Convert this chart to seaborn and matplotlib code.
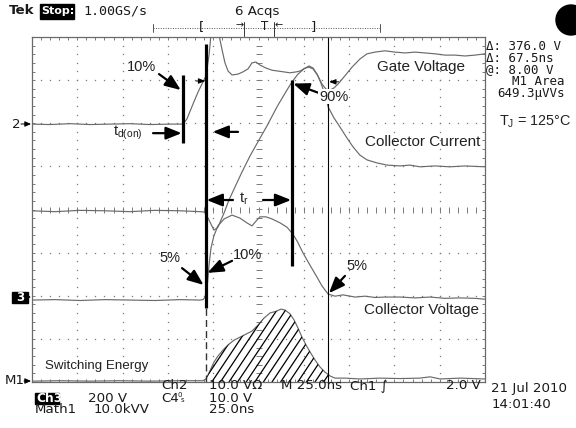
import numpy as np
import pandas as pd
import matplotlib
matplotlib.use("Agg")
import matplotlib.pyplot as plt
from matplotlib.ticker import MultipleLocator
from matplotlib.transforms import Affine2D
from matplotlib.patches import Rectangle, Circle
import seaborn as sns

# ---- acquisition: 25 ns/div horizontally, 10 x 8 divisions ----
T_LIM = (-125.0, 125.0)
DIV_LIM = (-4.0, 4.0)

# ---- waveforms: time in ns, level in divisions from screen centre ----
gate_t = [-125.0, -115.1, -104.0, -93.0, -82.0, -70.9, -59.9, -48.8, -41.7, -39.5,
          -36.1, -33.4, -31.2, -29.0, -27.3, -25.7, -23.5, -21.8, -20.1, -18.5,
          -16.8, -14.6, -11.3, -8.6, -5.8, -3.6, -1.4, 0.8, 4.1, 7.5,
          10.8, 14.1, 17.4, 20.7, 22.9, 25.7, 27.9, 30.1, 32.8, 35.0,
          37.3, 39.5, 41.7, 43.9, 47.7, 51.6, 56.0, 59.9, 64.3, 69.8,
          75.3, 80.9, 86.4, 91.9, 97.4, 102.9, 108.4, 114.0, 119.5, 125.0]
gate_div = [1.98, 1.97, 1.99, 1.97, 1.98, 1.99, 1.97, 1.98, 1.98, 2.10,
            2.45, 2.72, 2.91, 3.10, 3.58, 4.28, 4.39, 4.05, 3.70, 3.40,
            3.21, 3.12, 3.14, 3.19, 3.26, 3.40, 3.42, 3.35, 3.28, 3.23,
            3.21, 3.19, 3.17, 3.19, 3.21, 3.28, 3.30, 3.26, 3.10, 2.91,
            2.79, 2.77, 2.82, 2.91, 3.10, 3.30, 3.49, 3.61, 3.65, 3.68,
            3.65, 3.63, 3.65, 3.63, 3.61, 3.58, 3.58, 3.56, 3.58, 3.61]

ic_t = [-125.0, -112.3, -98.5, -84.7, -70.9, -57.1, -43.3, -32.3, -29.5, -26.8,
        -24.6, -22.4, -19.0, -16.3, -13.0, -9.1, -4.7, -0.3, 4.7, 10.2,
        15.7, 18.5, 21.8, 25.1, 27.9, 30.1, 32.3, 34.5, 36.7, 38.4,
        41.7, 45.0, 48.8, 52.2, 56.0, 59.9, 65.4, 70.9, 78.1, 83.6,
        89.1, 97.4, 105.7, 114.0, 125.0]
ic_div = [-0.03, -0.05, -0.02, -0.03, -0.05, -0.02, -0.03, -0.05, -0.06, -0.29,
          -0.48, -0.41, -0.08, 0.22, 0.52, 0.87, 1.24, 1.57, 1.94, 2.38,
          2.77, 2.96, 3.14, 3.26, 3.33, 3.28, 3.14, 2.93, 2.66, 2.38,
          2.12, 1.91, 1.66, 1.45, 1.26, 1.15, 1.08, 1.03, 1.01, 1.03,
          0.99, 1.01, 0.99, 1.01, 0.99]

vce_t = [-125.0, -112.3, -98.5, -84.7, -70.9, -57.1, -43.3, -32.3, -30.6, -29.5,
         -28.4, -27.3, -26.2, -24.6, -22.4, -19.0, -14.6, -10.2, -6.4, -3.6,
         -1.4, 0.8, 4.1, 7.5, 11.9, 15.7, 19.0, 21.8, 24.6, 28.4,
         32.3, 35.0, 38.4, 42.2, 46.6, 53.3, 58.8, 64.3, 69.8, 78.1,
         86.4, 94.7, 102.9, 111.2, 119.5, 125.0]
vce_div = [-2.10, -2.09, -2.11, -2.09, -2.10, -2.11, -2.09, -2.10, -2.09, -2.03,
           -1.82, -1.29, -0.89, -0.61, -0.38, -0.22, -0.13, -0.20, -0.31, -0.38,
           -0.27, -0.17, -0.17, -0.22, -0.31, -0.41, -0.57, -0.77, -1.01, -1.29,
           -1.57, -1.77, -1.96, -2.01, -1.98, -2.03, -2.01, -2.04, -2.03, -2.03,
           -2.05, -2.03, -2.06, -2.05, -2.06, -2.08]

eon_t = [-125.0, -109.6, -93.0, -76.5, -59.9, -43.3, -30.6, -29.0, -26.8, -24.6,
         -22.4, -19.6, -16.8, -13.5, -10.2, -6.9, -3.6, -0.3, 3.0, 6.3,
         9.7, 12.4, 14.6, 17.4, 19.6, 21.8, 24.0, 26.2, 28.4, 31.2,
         33.9, 36.7, 39.5, 42.2, 47.7, 56.0, 67.0, 78.1, 89.1, 94.7,
         100.2, 111.2, 125.0]
eon_div = [-3.98, -3.97, -3.98, -3.97, -3.98, -3.97, -3.97, -3.93, -3.74, -3.54,
           -3.40, -3.26, -3.14, -3.03, -2.96, -2.89, -2.82, -2.68, -2.52, -2.40,
           -2.36, -2.31, -2.33, -2.42, -2.56, -2.75, -2.96, -3.14, -3.30, -3.49,
           -3.65, -3.77, -3.86, -3.91, -3.91, -3.93, -3.91, -3.92, -3.91, -3.88,
           -3.93, -3.91, -3.93]

# time cursors (delta = 67.5 ns) and timing marks
cursor_t = [-29.0, 38.5]
td_start_t = -41.7
ic90_t = 18.5

# ---- readouts ----
header_left = "1.00GS/s"
acq_text = "6 Acqs"
readouts_right = ["\u0394: 376.0 V", "\u0394: 67.5ns", "@: 8.00 V"]
m1_area = ["M1 Area", "649.3\u00b5VVs"]
tj_text = "T$_\\mathregular{J}$ = 125\u00b0C"

sns.set_style("white")
plt.rcParams["font.family"] = ["Liberation Sans", "DejaVu Sans"]

W, H = 576, 428
fig = plt.figure(figsize=(W / 100, H / 100), dpi=100)
ax = fig.add_axes([32 / W, (H - 382) / H, 453 / W, 345 / H])
ax.set_xlim(*T_LIM)
ax.set_ylim(*DIV_LIM)

GRID = "#7a7a7a"
TRACE = "#6a6a6a"
for s in ax.spines.values():
    s.set_color("#6a6a6a")
    s.set_linewidth(0.9)
ax.xaxis.set_major_locator(MultipleLocator(25))
ax.xaxis.set_minor_locator(MultipleLocator(5))
ax.yaxis.set_major_locator(MultipleLocator(1))
ax.yaxis.set_minor_locator(MultipleLocator(0.2))
ax.tick_params(which="both", direction="in", length=2.2, width=0.7, color=GRID,
               top=True, right=True, bottom=True, left=True,
               labelbottom=False, labelleft=False)

# dotted graticule, five dots per division
ns_per_px = 25.0 / 45.3
div_per_px = 1.0 / 43.125
yd = np.arange(-4, 4.001, 0.2)
td = np.arange(-125, 125.1, 5)
for xv in np.arange(-100, 101, 25):
    if xv == 0:
        continue
    ax.plot(np.full_like(yd, xv), yd, ls="none", marker="s", ms=0.9, mew=0, color=GRID)
for yv in range(-3, 4):
    if yv == 0:
        continue
    ax.plot(td, np.full_like(td, yv), ls="none", marker="s", ms=0.9, mew=0, color=GRID)
# centre cross with tick marks
ax.plot(np.zeros_like(yd), yd, ls="none", marker="_", ms=5, mew=0.7, color=GRID)
ax.plot(td, np.zeros_like(td), ls="none", marker="|", ms=5, mew=0.7, color=GRID)

# ---- traces ----
traces = {
    "gate": (gate_t, gate_div),
    "ic": (ic_t, ic_div),
    "vce": (vce_t, vce_div),
    "eon": (eon_t, eon_div),
}
for name, (tt, vv) in traces.items():
    df = pd.DataFrame({"t": tt, "v": vv})
    sns.lineplot(data=df, x="t", y="v", ax=ax, color=TRACE, lw=0.85,
                 sort=False, estimator=None, legend=False)
ax.set_xlabel("")
ax.set_ylabel("")

# hatched switching-energy area between the cursors
tt = np.linspace(cursor_t[0], cursor_t[1], 300)
yy = np.interp(tt, eon_t, eon_div)
poly = ax.fill_between(tt, yy, DIV_LIM[0], facecolor="none", edgecolor="none")
clip = poly.get_paths()[0]
slope = 1.5
step = 8.6 * ns_per_px
s = np.array([0.0, 200.0])
for t0 in np.arange(cursor_t[0] - 30, cursor_t[1] + 5, step):
    ln, = ax.plot(t0 + s * ns_per_px, DIV_LIM[0] + slope * s * div_per_px,
                  color="black", lw=0.9)
    ln.set_clip_path(clip, ax.transData)

# cursors
ax.plot([cursor_t[0], cursor_t[0]], [DIV_LIM[0], -2.28], color="#333333",
        lw=1.0, ls=(0, (5, 3)))
ax.plot([cursor_t[1], cursor_t[1]], [DIV_LIM[0], DIV_LIM[1]], color="black", lw=0.8)

# heavy timing marks
BAR = dict(color="black", lw=2.3, solid_capstyle="butt", zorder=5)
ax.plot([td_start_t, td_start_t], [3.12, 1.54], **BAR)
ax.plot([cursor_t[0], cursor_t[0]], [3.84, -2.28], **BAR)
ax.plot([ic90_t, ic90_t], [3.00, -1.31], **BAR)

ARW = dict(arrowstyle="-|>,head_length=0.95,head_width=0.38", mutation_scale=10,
           lw=1.6, color="black", shrinkA=0, shrinkB=0)
SMALL = dict(arrowstyle="-|>,head_length=0.5,head_width=0.2", mutation_scale=8,
             lw=0.7, color="black", shrinkA=0, shrinkB=0)


def arrow(tail, head, props=ARW):
    ax.annotate("", xy=head, xytext=tail, arrowprops=props, zorder=6)


LBL = dict(fontsize=10.5, color="#222222", ha="center", va="center", zorder=7)

ax.text(-64.8, 3.30, "10%", **LBL)
arrow((-54.9, 3.14), (-42.9, 2.77))
ax.text(-72.0, 1.77, r"t$_\mathregular{d(on)}$", **LBL)
arrow((-58.2, 1.77), (-42.4, 1.77))
arrow((-11.3, 1.80), (-25.3, 1.80))
arrow((-34.5, 2.98), (-29.4, 2.98), SMALL)
arrow((44.2, 2.96), (39.0, 2.96), SMALL)

ax.text(-8.3, 0.25, r"t$_\mathregular{r}$", **LBL)
arrow((-14.1, 0.22), (-28.6, 0.22))
arrow((2.5, 0.22), (18.0, 0.22))

ax.text(41.4, 2.62, "90%", bbox=dict(fc="white", ec="none", pad=0.6), **LBL)
arrow((32.8, 2.71), (19.2, 2.92))

ax.text(-49.0, -1.12, "5%", **LBL)
arrow((-42.2, -1.36), (-30.3, -1.75))
ax.text(-6.3, -1.06, "10%", **LBL)
arrow((-14.6, -1.19), (-28.2, -1.47))
ax.text(54.4, -1.32, "5%", **LBL)
arrow((47.7, -1.54), (38.9, -1.94))

NAME = dict(fontsize=11, color="#222222", ha="center", va="center", zorder=7)
ax.text(89.7, 3.30, "Gate Voltage", **NAME)
ax.text(90.4, 1.56, "Collector Current", **NAME)
ax.text(89.7, -2.34, "Collector Voltage", **NAME)
ax.text(-117.8, -3.63, "Switching Energy", fontsize=9.6, color="#222222",
        ha="left", va="center", zorder=7)

# ---- screen readouts (pixel placement) ----
pix = Affine2D().scale(1 / W, -1 / H).translate(0, 1) + fig.transFigure
RD = dict(transform=pix, fontsize=9.6, color="#1a1a1a", va="center",
          family=["DejaVu Sans"])
MONO = dict(RD, family=["DejaVu Sans Mono"])
RMONO = dict(MONO, fontsize=9.0)

fig.text(9, 11, "Tek", fontweight="bold", **RD)
fig.patches.append(Rectangle((40, 3.5), 34, 15, transform=pix, color="black"))
fig.text(41, 11, "Stop:", fontweight="bold", **dict(RD, color="white", fontsize=8.0))
fig.text(83, 11, header_left, **MONO)
fig.text(257, 11, acq_text, ha="center", **RD)

# record/trigger position bar
fig.lines.append(plt.Line2D([153, 380], [28, 28], transform=pix, color="#555555",
                            lw=0.7, ls=(0, (1, 1.5))))
for xp in (153, 380):
    fig.lines.append(plt.Line2D([xp, xp], [24, 32], transform=pix, color="#555555", lw=0.7))
for xp in (244, 274):
    fig.lines.append(plt.Line2D([xp, xp], [22, 36], transform=pix, color="#333333", lw=0.7))
fig.text(201, 27, "[", ha="center", **RD)
fig.text(313, 27, "]", ha="center", **RD)
fig.text(265, 27, "T", ha="center", **dict(RD, fontsize=8.5))
fig.text(240, 25, "\u2192", ha="center", **dict(RD, fontsize=7))
fig.text(279, 25, "\u2190", ha="center", **dict(RD, fontsize=7))
fig.patches.append(Circle((571, 20), 15, transform=pix, color="black"))

for i, txt in enumerate(readouts_right):
    fig.text(486, 47 + i * 11.5, txt, **RMONO)
fig.text(538, 81.5, m1_area[0], ha="center", **RMONO)
fig.text(497, 93, m1_area[1], **RMONO)
fig.text(499, 122, tj_text, transform=pix, fontsize=10.4, color="#222222",
         va="center", family=["Liberation Sans", "DejaVu Sans"])

# channel ground markers
GM = dict(arrowstyle="-|>,head_length=0.45,head_width=0.2", mutation_scale=8,
          lw=0.7, color="black", shrinkA=0, shrinkB=0)
fig.text(16.5, 124, "2", ha="center", **RD)
ax.annotate("", xy=(31, 124), xytext=(21, 124), xycoords=pix, textcoords=pix,
            arrowprops=GM, annotation_clip=False)
fig.patches.append(Rectangle((12, 292), 16, 11, transform=pix, color="black"))
fig.text(20, 297.5, "3", ha="center", **dict(RD, color="white", fontweight="bold", fontsize=8.5))
ax.annotate("", xy=(31, 297), xytext=(27, 297), xycoords=pix, textcoords=pix,
            arrowprops=GM, annotation_clip=False)
fig.text(15, 381, "M1", ha="center", **RD)
ax.annotate("", xy=(31, 381), xytext=(24, 381), xycoords=pix, textcoords=pix,
            arrowprops=GM, annotation_clip=False)

# bottom settings readout
fig.text(161, 386, "Ch2", **RD)
fig.text(209, 386, "10.0 V\u03a9", **RD)
fig.text(281, 386, "M 25.0ns", **RD)
fig.text(350, 386, "Ch1 \u222b", **RD)
fig.text(481, 386, "2.0 V", ha="right", **RD)
fig.text(491, 389, "21 Jul 2010", **RD)
fig.patches.append(Rectangle((35, 393), 24, 11, transform=pix, color="black"))
fig.text(36, 398.5, "Ch3", **dict(RD, color="white", fontweight="bold", fontsize=8.8))
fig.text(88, 398.5, "200 V", **RD)
fig.text(161, 398.5, "C4", **RD)
fig.text(178, 395.5, "0", **dict(RD, fontsize=5))
fig.text(181, 400, "s", **dict(RD, fontsize=5))
fig.text(209, 398.5, "10.0 V", **RD)
fig.text(492, 405, "14:01:40", **RD)
fig.text(35, 410, "Math1", **RD)
fig.text(94, 410, "10.0kVV", **RD)
fig.text(209, 410, "25.0ns", **RD)

fig.savefig("out.png", dpi=100)
